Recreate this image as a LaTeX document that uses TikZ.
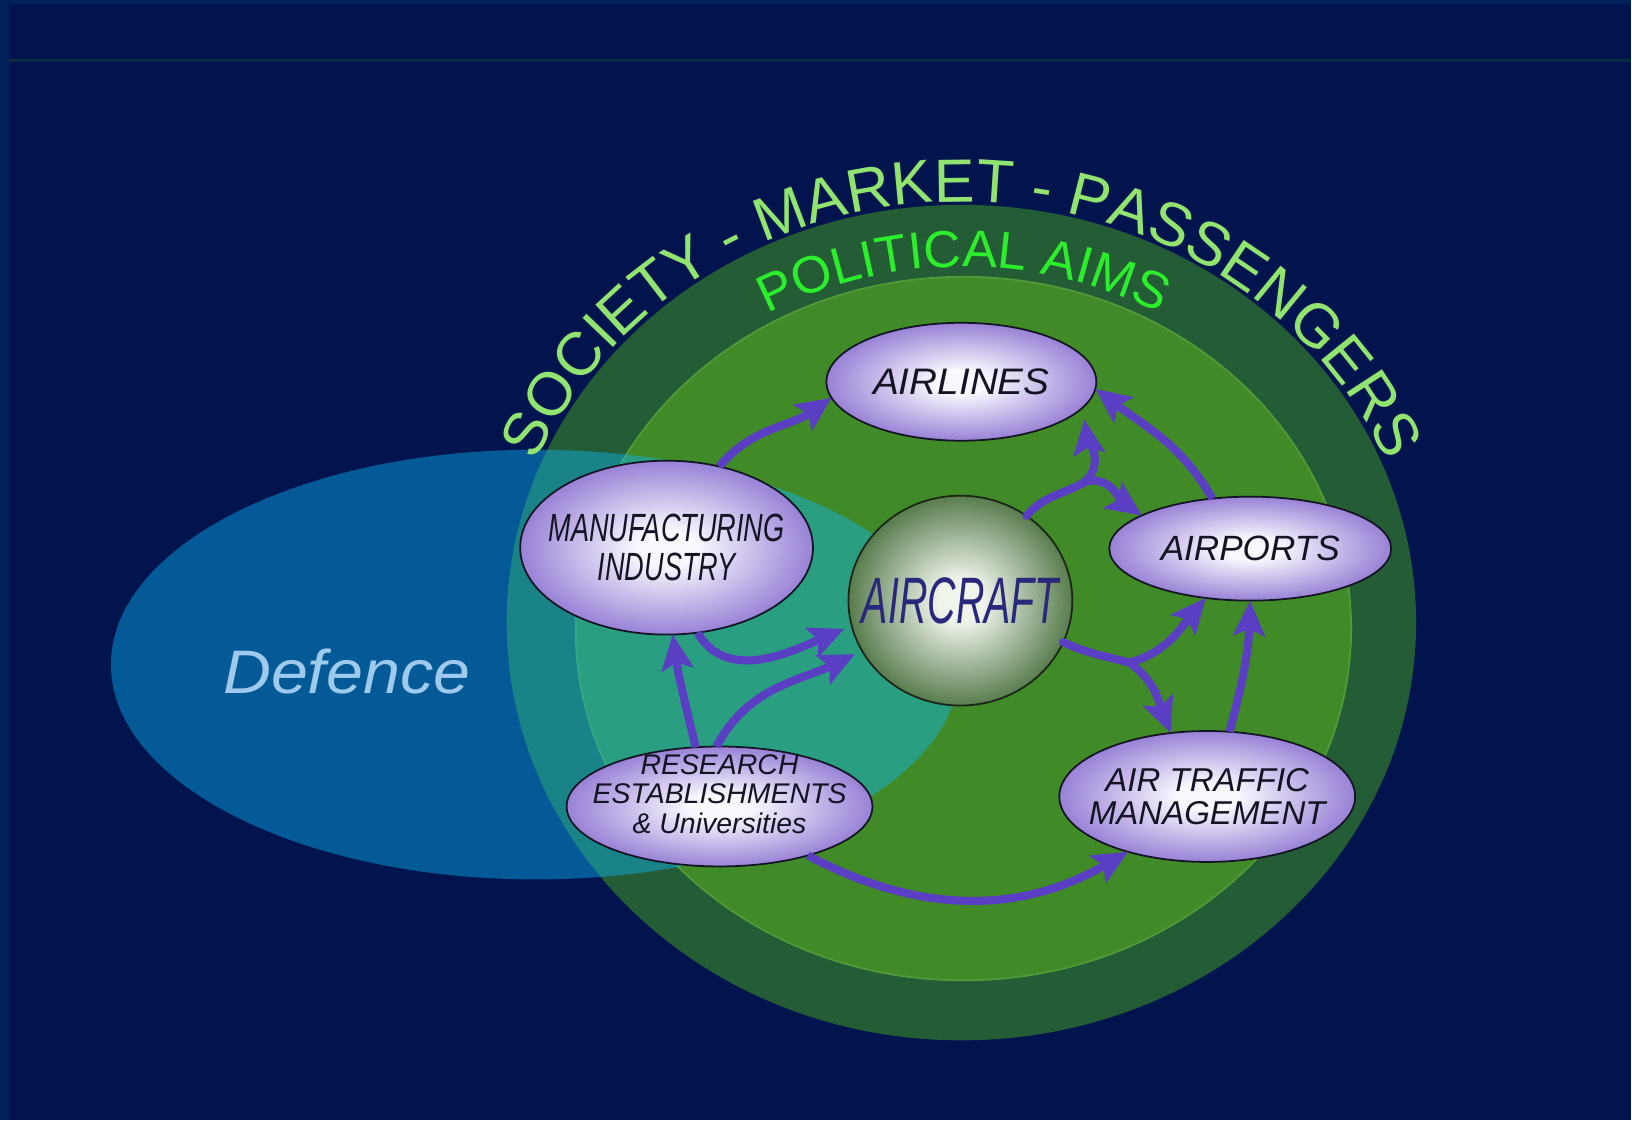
\documentclass[tikz,border=0pt]{standalone}
\usepackage{fontspec}
\setmainfont{Liberation Sans}
\usetikzlibrary{shapes.geometric}
\usetikzlibrary{arrows.meta}
\usetikzlibrary{decorations.text}

\definecolor{navy}{RGB}{1,20,77}
\definecolor{frameblue}{RGB}{1,34,88}
\definecolor{frameline}{RGB}{10,42,62}
\definecolor{ringdark}{RGB}{36,92,54}
\definecolor{ringgreen}{RGB}{64,138,40}
\definecolor{ringedge}{RGB}{80,154,58}
\definecolor{defblue}{RGB}{10,187,251}
\definecolor{deftext}{RGB}{158,202,238}
\definecolor{societygreen}{RGB}{146,228,112}
\definecolor{aimsgreen}{RGB}{44,238,44}
\definecolor{flowpurple}{RGB}{90,62,196}
\definecolor{lilac}{RGB}{152,130,214}
\definecolor{lilacwhite}{RGB}{250,248,255}
\definecolor{sphere}{RGB}{88,124,78}
\definecolor{spherewhite}{RGB}{240,245,236}
\definecolor{craftink}{RGB}{42,40,122}
\definecolor{ink}{RGB}{20,20,36}

\pgfdeclareradialshading{lilacglow}{\pgfpointorigin}{color(0bp)=(lilacwhite); color(5bp)=(lilacwhite); color(25bp)=(lilac); color(50bp)=(lilac)}
\pgfdeclareradialshading{sphereglow}{\pgfpointorigin}{color(0bp)=(spherewhite); color(5bp)=(spherewhite); color(25bp)=(sphere); color(50bp)=(sphere)}

% size, baselineskip, horizontal stretch
\newcommand\tagfont[3]{\fontsize{#1}{#2}\selectfont\itshape\addfontfeatures{FakeStretch=#3}}
\newcommand\societyfont{\fontsize{17.4pt}{20pt}\selectfont}
\newcommand\aimsfont{\fontsize{14.8pt}{18pt}\selectfont}

\begin{document}
\begin{tikzpicture}
\tikzstyle{place}=[ellipse,draw=ink,line width=0.5pt,shading=lilacglow,inner xsep=-3cm,inner ysep=-2cm,outer sep=0pt,text=ink,align=center]
\tikzstyle{flow}=[draw=flowpurple,line width=2.3pt,-{Stealth[length=10pt,width=9pt,inset=2pt]}]
\tikzstyle{stem}=[draw=flowpurple,line width=2.3pt,line cap=round]

% backdrop
\fill[navy] (0,0) rectangle (16.32,-11.21);
\fill[frameblue] (0,0) rectangle (0.09,-11.21);
\fill[frameblue] (0,0) rectangle (16.32,-0.04);
\draw[frameline,line width=0.6pt] (0.09,-0.605) -- (16.32,-0.605);

% rings and the defence overlap
\fill[ringdark] (9.62,-6.23) ellipse [x radius=4.55, y radius=4.18];
\filldraw[fill=ringgreen,draw=ringedge,line width=0.5pt] (9.64,-6.29) ellipse [x radius=3.88, y radius=3.52];
\fill[defblue,fill opacity=0.42] (5.36,-6.65) ellipse [x radius=4.25, y radius=2.15];
\node[text=deftext,font=\tagfont{17.5pt}{20pt}{1.08}] (defence) at (3.47,-6.72) {Defence};

\path[decorate,decoration={text along path,text align=center,text color=societygreen,
  text={|\societyfont|SOCIETY - MARKET - PASSENGERS}}]
  (9.62,-6.23) ++(175:4.60 and 4.21) arc[start angle=175, end angle=5, x radius=4.60, y radius=4.21];
\path[decorate,decoration={text along path,text align=center,text color=aimsgreen,
  text={|\aimsfont|POLITICAL AIMS}}]
  (9.64,-6.29) ++(150:3.98 and 3.62) arc[start angle=150, end angle=30, x radius=3.98, y radius=3.62];

% the players
\node[place,minimum width=2.70cm,minimum height=1.18cm,font=\tagfont{10.5pt}{12pt}{1.05}] (airlines) at (9.62,-3.82) {AIRLINES};
\node[place,minimum width=2.93cm,minimum height=1.74cm,font=\tagfont{11.2pt}{11pt}{0.69}] (man) at (6.67,-5.48) {MANUFACTURING\\INDUSTRY};
\node[place,minimum width=2.82cm,minimum height=1.04cm,font=\tagfont{10pt}{12pt}{1.0}] (airports) at (12.51,-5.49) {AIRPORTS};
\node[place,minimum width=2.96cm,minimum height=1.31cm,font=\tagfont{9.4pt}{9.4pt}{1.0}] (atm) at (12.08,-7.97) {AIR TRAFFIC\\MANAGEMENT};
\node[place,minimum width=3.06cm,minimum height=1.20cm,text depth=0.25cm,font=\tagfont{8.1pt}{8.4pt}{1.0}] (research) at (7.20,-8.07) {RESEARCH\\ESTABLISHMENTS\\\& Universities};
\node[place,shading=sphereglow,draw=black!70!sphere,minimum width=2.24cm,minimum height=2.10cm,text=craftink,font=\tagfont{18.7pt}{20pt}{0.6}] (aircraft) at (9.61,-6.01) {AIRCRAFT};

% branch points
\coordinate (jtop) at (10.86,-4.82);
\coordinate (jlow) at (11.30,-6.63);

\draw[flow] (man.57) to[out=50,in=215] (airlines.187);
\draw[stem] (aircraft.52) to[out=50,in=210] (jtop);
\draw[flow,shorten >=0.12cm] (jtop) to[out=45,in=-82] (airlines.-12);
\draw[flow] (jtop) to[out=15,in=145] (airports.163);
\draw[flow] (airports.127) to[out=120,in=-37] (airlines.-3);
\draw[stem] (aircraft.-22) to[out=-25,in=165] (jlow);
\draw[flow] (jlow) to[out=15,in=-130] (airports.-132);
\draw[flow] (jlow) to[out=-35,in=111] (atm.120);
\draw[flow] (atm.71) to[out=75,in=-92] (airports.-90);
\draw[flow,shorten >=0.08cm] (man.-70) to[out=-60,in=203] (aircraft.193);
\draw[flow] (research.112) to[out=103,in=-82] (man.-86);
\draw[flow,shorten >=0.08cm] (research.93) to[out=62,in=206] (aircraft.207);
\draw[flow] (research.-29) to[out=-28,in=210] (atm.215);
\end{tikzpicture}
\end{document}
